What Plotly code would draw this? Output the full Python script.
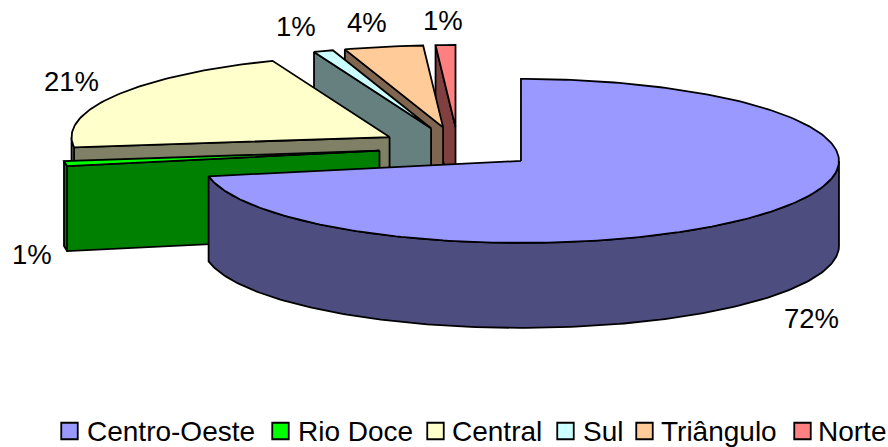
import math
import plotly.graph_objects as go

# ---- data ----
categories = ["Centro-Oeste", "Rio Doce", "Central", "Sul", "Triângulo", "Norte"]
shares = [72, 1, 21, 1, 4, 1]
top_colors = ["#9999FF", "#00FF00", "#FFFFCC", "#CCFFFF", "#FFCC99", "#FF8080"]
side_colors = ["#4D4D80", "#008000", "#808066", "#668080", "#806650", "#804040"]

# ---- drawing geometry (pixels of the 888x447 page) ----
W, H = 888, 447
CX, CY = 458.0, 147.5
RX, RY = 318.0, 82.0
DEPTH = 85.0
explode = [0.257, 0.25, 0.25, 0.25, 0.25, 0.25]
LW = 1.8
FONT = "Liberation Sans, Arial, sans-serif"
label_pos = [(811, 318), (32, 254), (71, 81), (296, 26), (367, 22), (443, 20)]
swatch_left = [61, 272, 427, 557, 636, 794]
text_left = [86, 297, 451, 582, 660, 817]
LEGEND_Y = 431


def point(cx, cy, t):
    r = math.radians(t)
    return cx + RX * math.sin(r), cy - RY * math.cos(r)


def arc(cx, cy, t0, t1, step=1.0):
    n = max(2, int(abs(t1 - t0) / step) + 1)
    return [point(cx, cy, t0 + (t1 - t0) * k / (n - 1)) for k in range(n)]


def poly(fig, pts, color, name):
    xs = [p[0] for p in pts] + [pts[0][0]]
    ys = [p[1] for p in pts] + [pts[0][1]]
    fig.add_trace(go.Scatter(
        x=xs, y=ys, mode="lines", fill="toself", fillcolor=color,
        line=dict(color="black", width=LW), showlegend=False,
        name=name, hoverinfo="name"))


fig = go.Figure()

total = sum(shares)
bounds = []
acc = 0
for v in shares:
    t0 = acc / total * 360
    acc += v
    bounds.append((t0, acc / total * 360))

# back slices first, painter's order
for i in range(len(shares) - 1, -1, -1):
    t0, t1 = bounds[i]
    mid = math.radians((t0 + t1) / 2)
    ax = CX + explode[i] * RX * math.sin(mid)
    ay = CY - explode[i] * RY * math.cos(mid)
    # flat cut face on the slice's leading edge
    if t0 > 180:
        ox, oy = point(ax, ay, t0)
        poly(fig, [(ax, ay), (ox, oy), (ox, oy + DEPTH), (ax, ay + DEPTH)],
             side_colors[i], categories[i])
    # outer rim
    a0, a1 = max(t0, 90), min(t1, 270)
    if a1 > a0:
        top = arc(ax, ay, a0, a1)
        bottom = [(x, y + DEPTH) for x, y in reversed(top)]
        poly(fig, top + bottom, side_colors[i], categories[i])
    # top face
    poly(fig, [(ax, ay)] + arc(ax, ay, t0, t1), top_colors[i], categories[i])

# legend swatches
for i, c in enumerate(categories):
    fig.add_trace(go.Scatter(
        x=[swatch_left[i] + 8.5], y=[LEGEND_Y], mode="markers",
        marker=dict(symbol="square", size=16.5, color=top_colors[i],
                    line=dict(color="black", width=1.8)),
        showlegend=False, name=c, hoverinfo="name"))

annotations = []
for i, c in enumerate(categories):
    annotations.append(dict(
        x=text_left[i], y=LEGEND_Y, text=c, xref="x", yref="y", showarrow=False,
        xanchor="left", yanchor="middle", borderpad=0,
        font=dict(family=FONT, size=28, color="black")))
    annotations.append(dict(
        x=label_pos[i][0], y=label_pos[i][1], text=f"{shares[i]}%", xref="x", yref="y",
        showarrow=False, xanchor="center", yanchor="middle", borderpad=0,
        font=dict(family=FONT, size=27.5, color="black")))

fig.update_layout(
    width=W, height=H, margin=dict(l=0, r=0, t=0, b=0),
    paper_bgcolor="white", plot_bgcolor="white", showlegend=False,
    xaxis=dict(range=[0, W], visible=False, fixedrange=True),
    yaxis=dict(range=[H, 0], visible=False, fixedrange=True),
    annotations=annotations,
)
fig.write_html("out.html", config={"displayModeBar": False},
               post_script="document.documentElement.style.overflow='hidden';document.body.style.margin='0';")
